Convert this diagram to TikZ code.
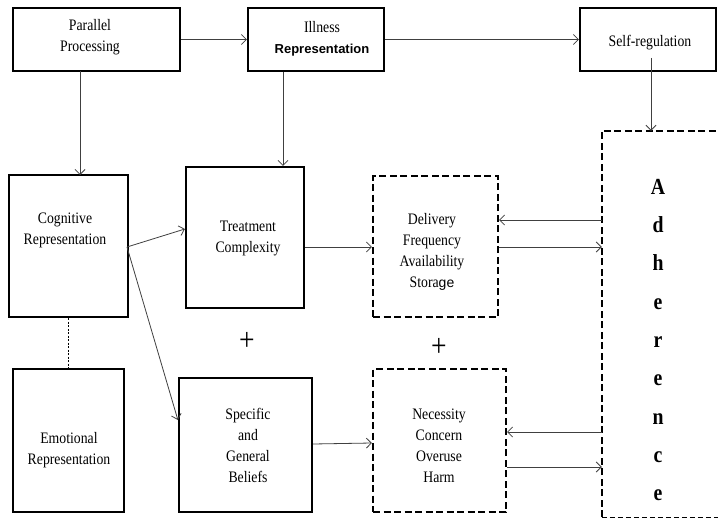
\documentclass[tikz,border=0pt]{standalone}
\usepackage{fontspec}
\setmainfont{Liberation Serif}[FakeStretch=0.86]
\setsansfont{Liberation Sans}
\usetikzlibrary{arrows.meta}
\tikzset{
  box/.style={draw=black, line width=2.2pt, inner sep=0pt, rectangle},
  dbox/.style={draw=black, line width=2.2pt, inner sep=0pt, rectangle, dash pattern=on 7pt off 3.5pt},
  txt/.style={align=center, inner sep=0pt, font=\fontsize{16}{21}\selectfont},
  arr/.style={draw=black!75, line width=0.8pt, -{Straight Barb[length=5pt,width=10pt]}},
  plus/.style={inner sep=0pt, font=\fontsize{32}{32}\selectfont}
}
\begin{document}
\begin{tikzpicture}[x=1pt,y=-1pt]
\clip (0,0) rectangle (718,519);
\fill[white] (0,0) rectangle (718,519);
% boxes
\node[box, minimum width=167pt, minimum height=63pt] (PP) at (96.5,39.5) {};
\node[box, minimum width=136pt, minimum height=63pt] (IR) at (316,39.5) {};
\node[box, minimum width=136pt, minimum height=63pt] (SR) at (648,39.5) {};
\node[box, minimum width=119pt, minimum height=142pt] (CR) at (68.5,246) {};
\node[box, minimum width=118pt, minimum height=141pt] (TC) at (245,237.5) {};
\node[dbox, minimum width=125pt, minimum height=141pt] (DL) at (435.5,246.5) {};
\node[box, minimum width=111pt, minimum height=143pt] (ER) at (68.5,440.5) {};
\node[box, minimum width=133pt, minimum height=134pt] (SGB) at (245.5,445) {};
\node[dbox, minimum width=133pt, minimum height=143pt] (NC) at (439.5,440.5) {};
\node[inner sep=0pt, minimum width=138pt, minimum height=386pt] (AD) at (671,324) {};
\draw[line width=2.2pt, dash pattern=on 7pt off 3.5pt] (AD.south west) -- (AD.north west) -- (AD.north east);
\draw[line width=0.8pt, dash pattern=on 5pt off 3pt] (AD.south west) -- (AD.south east);
% texts
\node[txt] (PPt) at (90,37) {Parallel\\Processing};
\node[txt] (IRt) at (322,39) {Illness\\{\sffamily\bfseries\fontsize{13}{21}\selectfont Representation}};
\node[txt] (SRt) at (650,43) {Self-regulation};
\node[txt] (CRt) at (65,230) {Cognitive\\Representation};
\node[txt] (TCt) at (248,238) {Treatment\\Complexity};
\node[txt] (DLt) at (432,251.5) {Delivery\\Frequency\\Availability\\Stora{\sffamily\fontsize{14}{21}\selectfont ge}};
\node[txt] (ERt) at (69,450) {Emotional\\Representation};
\node[txt] (SGBt) at (248,445) {Specific\\and\\General\\Beliefs};
\node[txt] (NCt) at (439,446) {Necessity\\Concern\\Overuse\\Harm};
\node[align=center, inner sep=0pt, font=\bfseries\fontsize{23}{38.3}\selectfont] (ADt) at (658,340) {A\\d\\h\\e\\r\\e\\n\\c\\e};
\node[plus] (p1) at (247,341) {+};
\node[plus] (p2) at (439,347) {+};
% connectors
\coordinate (srs) at (651,58);
\coordinate (crs) at (127,247);
\draw[arr] (PP.east) -- (IR.west);
\draw[arr] (IR.east) -- (SR.west);
\draw[arr] (srs) -- (srs |- AD.north);
\draw[arr] (80,71) -- (80,175);
\draw[arr] (IR.south -| 283,0) -- (TC.north -| 283,0);
\draw[arr] (crs) -- (TC.west |- 0,229);
\draw[arr] (crs) -- (SGB.west |- 0,420);
\draw[line width=0.6pt, dash pattern=on 2pt off 1.5pt] (CR.south -| 68,0) -- (ER.north -| 68,0);
\draw[arr] (TC.east |- 0,247) -- (DL.west |- 0,247);
\draw[arr] (AD.west |- 0,220) -- (DL.east |- 0,220);
\draw[arr] (DL.east |- 0,247) -- (AD.west |- 0,247);
\draw[arr] (SGB.east |- 0,444) -- (NC.west |- 0,443);
\draw[arr] (AD.west |- 0,432) -- (NC.east |- 0,432);
\draw[arr] (NC.east |- 0,467) -- (AD.west |- 0,467);
\end{tikzpicture}
\end{document}
